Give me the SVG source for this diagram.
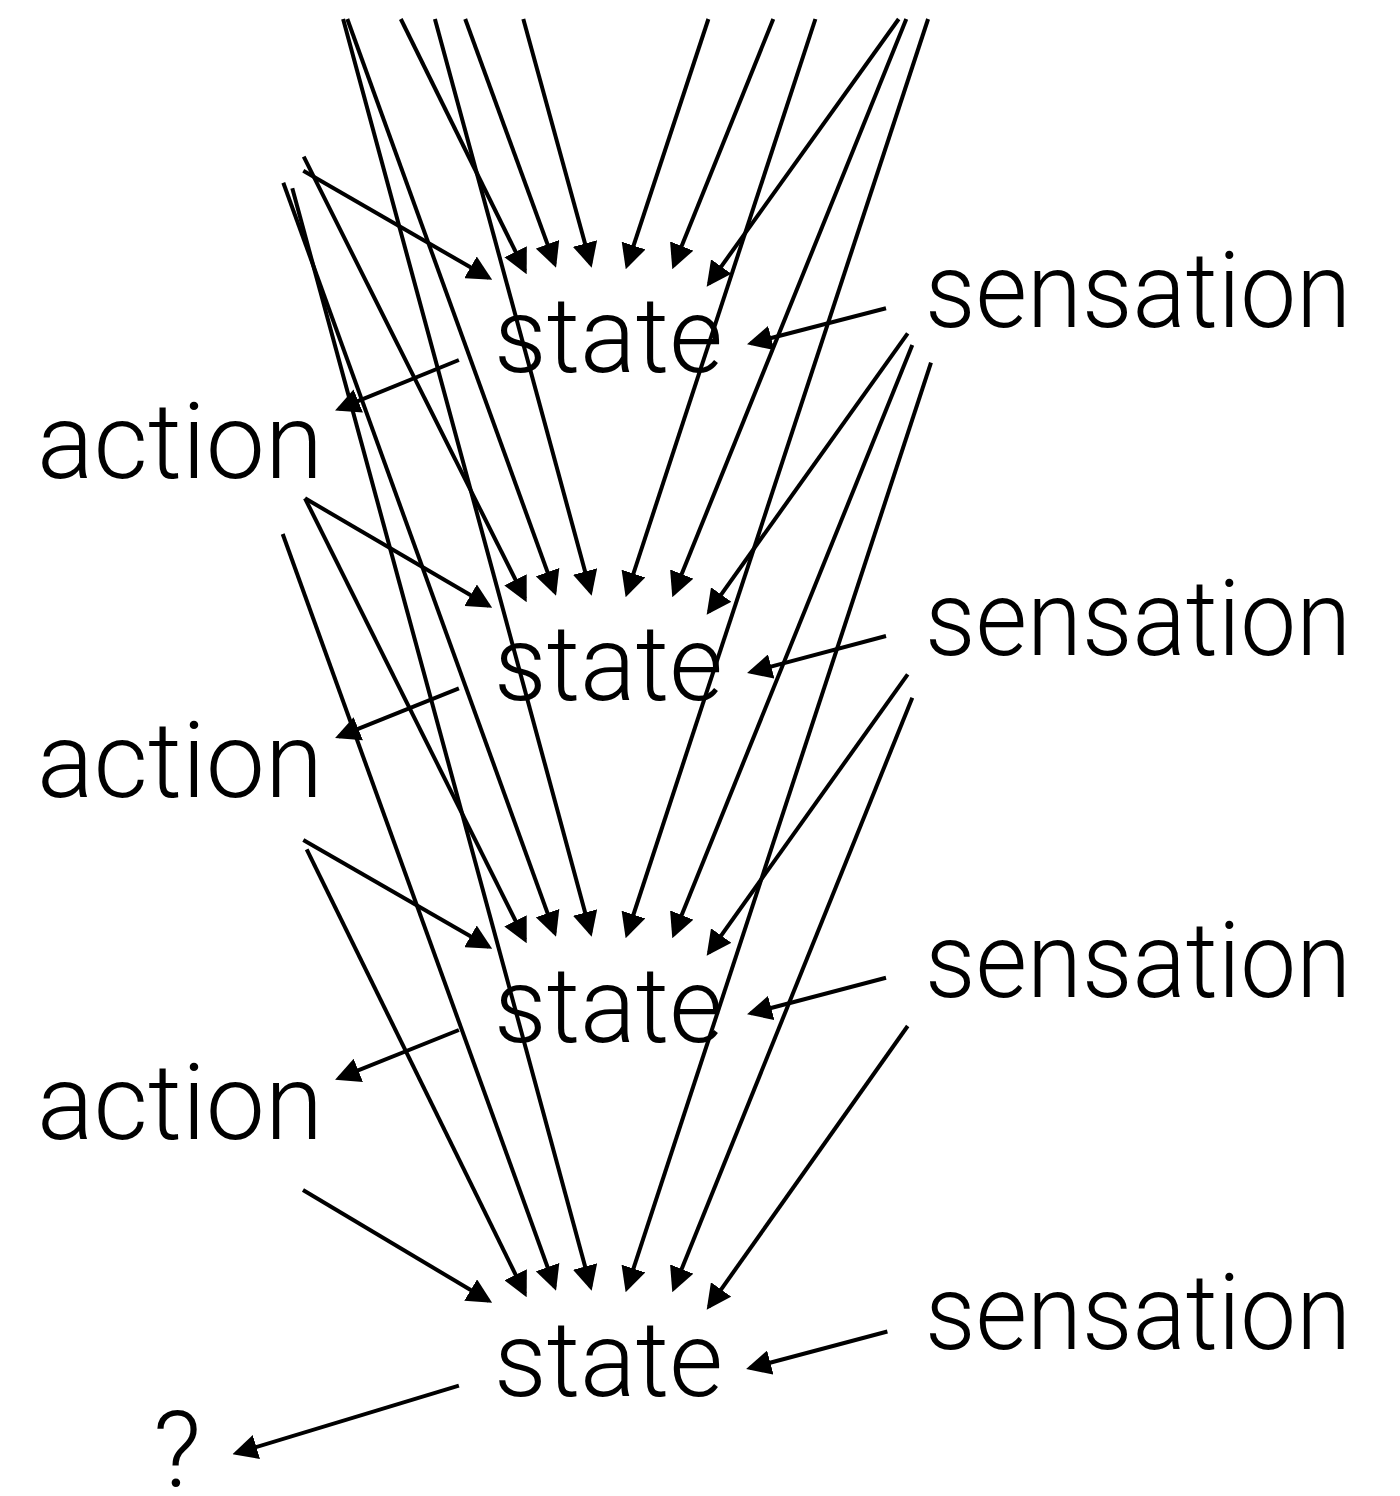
<svg xmlns="http://www.w3.org/2000/svg" width="1400" height="1496" viewBox="0 0 1400 1496">
  <defs>
    <style>
      .lbl { font-family: Roboto, "Liberation Sans", sans-serif; font-weight: 300; font-size: 106px; fill: #000; }
      .edge { stroke: #000; stroke-width: 4; fill: none; marker-end: url(#ah); }
    </style>
    <marker id="ah" markerUnits="userSpaceOnUse" markerWidth="25" markerHeight="25" viewBox="0 0 25 25" refX="21" refY="12.5" orient="auto">
      <path d="M0,0 L25,12.5 L0,25 z" fill="#000"/>
    </marker>
  </defs>
  <rect width="1400" height="1496" fill="#fff"/>

  <!-- connectors: every state gathers the whole history of actions (left) and sensations (right) -->
  <g id="connectors">
    <!-- history arriving from above the frame -->
    <line class="edge" x1="400.8" y1="19" x2="524.9" y2="270.6"/>
    <line class="edge" x1="465.2" y1="19" x2="554.7" y2="263.9"/>
    <line class="edge" x1="523.3" y1="19" x2="590.6" y2="263.8"/>
    <line class="edge" x1="347.3" y1="19" x2="554.7" y2="591.9"/>
    <line class="edge" x1="434.9" y1="19" x2="590.6" y2="591.8"/>
    <line class="edge" x1="343.1" y1="19" x2="590.6" y2="932.8"/>
    <line class="edge" x1="708.4" y1="19" x2="627" y2="265.5"/>
    <line class="edge" x1="773.3" y1="19" x2="673.8" y2="265.5"/>
    <line class="edge" x1="898.7" y1="19" x2="709" y2="283.6"/>
    <line class="edge" x1="815.4" y1="19" x2="626.9" y2="593.5"/>
    <line class="edge" x1="906.3" y1="19" x2="673.8" y2="593.5"/>
    <line class="edge" x1="928.1" y1="19" x2="626.9" y2="934.5"/>

    <!-- earlier action (above the frame) -->
    <line class="edge" x1="303.3" y1="170.7" x2="488.7" y2="277.8"/>
    <line class="edge" x1="303.7" y1="156.7" x2="524.9" y2="598.6"/>
    <line class="edge" x1="283.3" y1="182.7" x2="554.7" y2="932.9"/>
    <line class="edge" x1="292.3" y1="188.3" x2="590.6" y2="1286.8"/>

    <!-- action 1 -->
    <line class="edge" x1="305" y1="498.3" x2="488.7" y2="605.8"/>
    <line class="edge" x1="305" y1="498.3" x2="524.9" y2="939.6"/>
    <line class="edge" x1="282.7" y1="534" x2="554.7" y2="1286.9"/>
    <!-- action 2 -->
    <line class="edge" x1="303.3" y1="840" x2="488.7" y2="946.8"/>
    <line class="edge" x1="306.7" y1="849.3" x2="524.9" y2="1293.6"/>
    <!-- action 3 -->
    <line class="edge" x1="303" y1="1190" x2="488.7" y2="1300.8"/>

    <!-- sensation 1 -->
    <line class="edge" x1="907.7" y1="333.3" x2="709" y2="611.6"/>
    <line class="edge" x1="912.3" y1="345" x2="673.8" y2="934.5"/>
    <line class="edge" x1="931" y1="362.7" x2="626.9" y2="1288.5"/>
    <!-- sensation 2 -->
    <line class="edge" x1="907.7" y1="674.3" x2="709" y2="952.6"/>
    <line class="edge" x1="912.3" y1="697.7" x2="673.8" y2="1288.5"/>
    <!-- sensation 3 -->
    <line class="edge" x1="907.7" y1="1026" x2="709" y2="1306.6"/>

    <!-- sensation -> state -->
    <line class="edge" x1="886" y1="308.3" x2="750.9" y2="343.3"/>
    <line class="edge" x1="886" y1="636" x2="750.9" y2="671.9"/>
    <line class="edge" x1="886" y1="977.7" x2="750.9" y2="1013.3"/>
    <line class="edge" x1="887.4" y1="1331.5" x2="750" y2="1368"/>

    <!-- state -> action -->
    <line class="edge" x1="458.9" y1="360" x2="338.8" y2="408.9"/>
    <line class="edge" x1="458.9" y1="688.3" x2="338.8" y2="736.6"/>
    <line class="edge" x1="458.9" y1="1030" x2="338.8" y2="1078.2"/>
    <line class="edge" x1="458.9" y1="1385.7" x2="236.3" y2="1453.1"/>
  </g>

  <g id="state1"><text class="lbl" x="494" y="372" textLength="229" lengthAdjust="spacingAndGlyphs">state</text></g>
  <g id="state2"><text class="lbl" x="494" y="700" textLength="229" lengthAdjust="spacingAndGlyphs">state</text></g>
  <g id="state3"><text class="lbl" x="494" y="1042" textLength="229" lengthAdjust="spacingAndGlyphs">state</text></g>
  <g id="state4"><text class="lbl" x="494" y="1396" textLength="229" lengthAdjust="spacingAndGlyphs">state</text></g>

  <g id="sensation1"><text class="lbl" x="925" y="327" textLength="426" lengthAdjust="spacingAndGlyphs">sensation</text></g>
  <g id="sensation2"><text class="lbl" x="925" y="655" textLength="426" lengthAdjust="spacingAndGlyphs">sensation</text></g>
  <g id="sensation3"><text class="lbl" x="925" y="997" textLength="426" lengthAdjust="spacingAndGlyphs">sensation</text></g>
  <g id="sensation4"><text class="lbl" x="925" y="1349" textLength="426" lengthAdjust="spacingAndGlyphs">sensation</text></g>

  <g id="action1"><text class="lbl" x="37" y="478" textLength="286" lengthAdjust="spacingAndGlyphs">action</text></g>
  <g id="action2"><text class="lbl" x="37" y="797" textLength="286" lengthAdjust="spacingAndGlyphs">action</text></g>
  <g id="action3"><text class="lbl" x="37" y="1139" textLength="286" lengthAdjust="spacingAndGlyphs">action</text></g>

  <g id="unknown"><text class="lbl" x="153" y="1487">?</text></g>
</svg>
